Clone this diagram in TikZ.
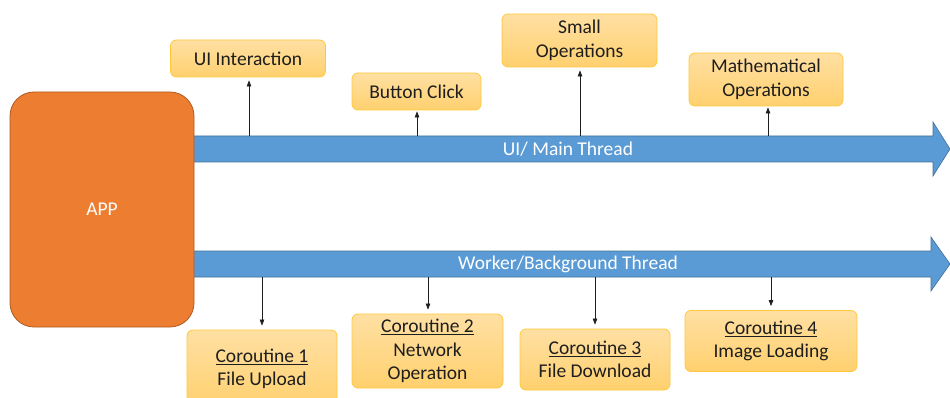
\documentclass[tikz,border=0pt]{standalone}
\usepackage{fontspec}
\setmainfont{Carlito}
\usetikzlibrary{arrows.meta}
\definecolor{appfill}{HTML}{ED7D31}
\definecolor{appdraw}{HTML}{AE5A21}
\definecolor{threadfill}{HTML}{5B9BD5}
\definecolor{threaddraw}{HTML}{41719C}
\definecolor{tasktop}{HTML}{FFE0A3}
\definecolor{taskbot}{HTML}{FFD06E}
\definecolor{taskdraw}{HTML}{FFC83A}
\definecolor{ink}{HTML}{1E1E1E}
\tikzset{
  taskbox/.style={draw=taskdraw, line width=0.8pt, rounded corners=6pt,
    top color=tasktop, bottom color=taskbot, text=ink, align=center,
    font=\fontsize{19.5}{23.5}\selectfont, inner sep=0pt},
  thread/.style={fill=threadfill, draw=threaddraw, line width=0.6pt},
  threadlabel/.style={text=white, font=\fontsize{19.5}{22}\selectfont},
  link/.style={-{Triangle[length=6pt,width=4.5pt]}, line width=0.7pt, draw=ink}
}
\begin{document}
\begin{tikzpicture}[x=1pt,y=-1pt]
\useasboundingbox (0,0) rectangle (950,398);
\clip (0,0) rectangle (950,398);

% the two thread arrows
\draw[thread] (180,136) -- (933,136) -- (933,122) -- (950,149) -- (933,176)
  -- (933,162) -- (180,162) -- cycle;
\draw[thread] (180,251) -- (931,251) -- (931,237) -- (950,264) -- (931,291)
  -- (931,277) -- (180,277) -- cycle;
\node[threadlabel] (mainlbl) at (568,149) {UI/ Main Thread};
\node[threadlabel] (worklbl) at (568,264) {Worker/Background Thread};

% application block
\node[draw=appdraw, fill=appfill, line width=0.8pt, rounded corners=24pt,
  minimum width=184pt, minimum height=235pt, text=white,
  font=\fontsize{19.5}{22}\selectfont] (app) at (102,209.5) {APP};

% main-thread tasks
\node[taskbox, minimum width=155pt, minimum height=37pt] (ui) at (248,58.5) {UI Interaction};
\node[taskbox, minimum width=129pt, minimum height=37pt] (btn) at (416.5,91.5) {Button Click};
\node[taskbox, minimum width=155pt, minimum height=53pt] (small) at (579.5,40.5) {Small\\Operations};
\node[taskbox, minimum width=154pt, minimum height=53pt] (math) at (766,79.5) {Mathematical\\Operations};

% background coroutines
\node[taskbox, minimum width=150pt, minimum height=78pt] (c1) at (262,369) {\underline{Coroutine 1}\\File Upload};
\node[taskbox, minimum width=151pt, minimum height=74pt] (c2) at (427.5,351) {\underline{Coroutine 2}\\Network\\Operation};
\node[taskbox, minimum width=150pt, minimum height=61pt] (c3) at (595,359.5) {\underline{Coroutine 3}\\File Download};
\node[taskbox, minimum width=172pt, minimum height=61pt] (c4) at (771,341) {\underline{Coroutine 4}\\Image Loading};

% attachment points on the thread arrows
\coordinate (m1) at (249,136);
\coordinate (m2) at (417,136);
\coordinate (m3) at (580,136);
\coordinate (m4) at (768,136);
\coordinate (w1) at (262,277);
\coordinate (w2) at (428,277);
\coordinate (w3) at (595,277);
\coordinate (w4) at (771,277);

\draw[link] (m1) -- ([yshift=-3pt]ui.south -| m1);
\draw[link] (m2) -- ([yshift=-1pt]btn.south -| m2);
\draw[link] (m3) -- ([yshift=-3pt]small.south -| m3);
\draw[link] (m4) -- ([yshift=-1pt]math.south -| m4);
\draw[link] (w1) -- ([yshift=4pt]c1.north -| w1);
\draw[link] (w2) -- ([yshift=4pt]c2.north -| w2);
\draw[link] (w3) -- ([yshift=4pt]c3.north -| w3);
\draw[link] (w4) -- ([yshift=4pt]c4.north -| w4);
\end{tikzpicture}
\end{document}
